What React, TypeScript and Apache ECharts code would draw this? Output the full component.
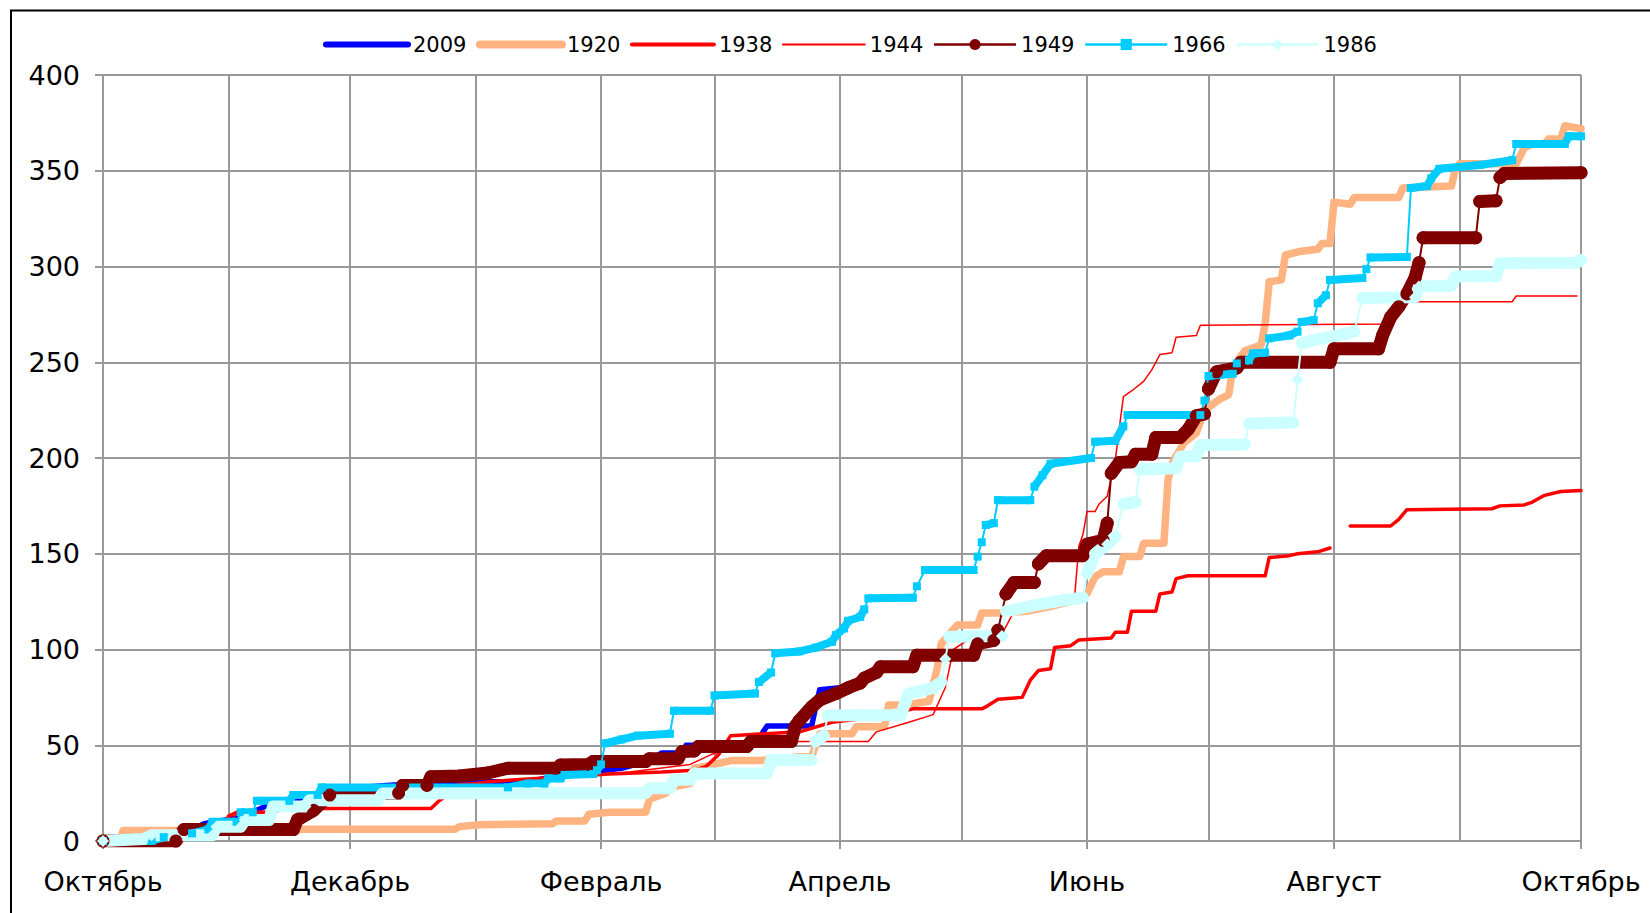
import React, { useEffect, useRef } from "react";
import * as echarts from "echarts";

// ---- axis definitions ----
const monthStartDays = [0, 31, 61, 92, 123, 151, 182, 212, 243, 273, 304, 335, 365];
const labelDays = [0, 61, 123, 182, 243, 304, 365];
const labelNames = ["Октябрь", "Декабрь", "Февраль", "Апрель", "Июнь", "Август", "Октябрь"];
const yMin = 0;
const yMax = 400;
const yStep = 50;
const totalDays = 365;

// ---- series (day since 1 Oct, cumulative value) ----
const s2009 = [[0,0],[10,1],[20,4],[25,9],[33,12],[38,16],[41,19],[50,23],[58,27],[70,29],[85,31],[105,31],[110,33],[120,36],[128,38],[135,42],[138,46],[143,46],[144,50],[162,50],[163,57],[164,60],[175,60],[176,70],[177,79],[182,80]];

const s1920 = [[0,0],[4,0],[5,5.5],[48,5.5],[49,6.2],[87,6.2],[88,7.5],[93,8.5],[111,9],[112,10.5],[119,10.5],[120,14],[125,15],[134,15],[135,22],[139,25],[140,28],[145,30],[146,38],[149,39],[155,42],[163,42],[172,44],[175,44],[177,56],[185,56],[186,59.7],[193,59.7],[194,71],[198,71],[204,73],[206,90],[207,103],[209,108],[211,112.8],[216,112.8],[217,119],[222,119],[228,120],[235,123],[241,126],[243,129],[245,138],[247,140.6],[251,140.6],[252,148.5],[256,148.5],[257,155.5],[262,155.5],[263,188.5],[264,197],[265,201],[267,208],[270,213],[272,225],[276,231],[278,233],[279,247],[282,256],[286,259],[287,270],[288,292],[291,293],[292,306],[296,308],[300,309],[301,312],[303,312],[304,333.6],[308,332.5],[309,336],[320,336],[321,341],[333,342],[334,351],[335,353.6],[349,353.6],[351,362],[353,364],[356,364],[357,366.6],[360,366.6],[361,373.5],[365,372]];

const s1938 = [[0,0],[18,1],[25,3],[29,5],[31,13],[33,15],[40,15],[44,17],[81,17],[83,21],[88,28],[95,31],[110,33],[125,35],[138,36],[146,37],[149,39],[152,45],[155,55],[172,57],[180,62],[192,65],[200,69],[217,69],[218,70],[221,74],[227,75],[229,84],[231,89],[234,90],[235,101],[239,102],[241,105],[249,106],[250,109],[253,109],[254,120],[260,120],[261,129],[264,130],[265,137],[268,138.5],[287,138.5],[288,148],[293,149],[295,150],[300,151],[303,153],[305,null],[308,164.5],[318,164.5],[320,168],[322,173],[343,173.5],[345,175],[351,175.5],[353,177],[356,180.5],[360,182.5],[365,183]];

const s1944 = [[0,0],[15,2],[25,4],[31,10],[33,14],[43,15],[47,20],[60,22],[80,25],[88,30],[110,33],[130,36],[145,40],[150,45],[158,50],[170,52],[189,52],[191,57],[199,62],[205,66],[208,80],[210,100],[215,107],[222,108],[225,120],[232,123],[238,126],[240,129],[241,154],[242,160],[243,172],[245,172],[246,176],[248,180],[249,190],[250,199],[251,216],[252,232],[254,235],[257,240],[259,246],[261,254],[264,255],[265,263],[270,264],[271,269.3],[318,270],[322,281.6],[348,281.6],[349,284.6],[364,284.6]];

const s1949 = [[0,0],[18,0],[20,6],[47,6],[48,11],[52,16],[56,24],[73,25],[74,29],[80,29],[81,33.5],[88,34],[95,35.5],[100,38],[112,38],[113,39.7],[120,40],[121,41.5],[134,41.5],[135,43],[142,43],[143,46.7],[146,47],[147,49.3],[159,49.3],[160,52],[170,52],[171,60],[172,63],[175,70],[177,73.6],[181,77],[184,80],[187,82.5],[188,85],[191,88],[192,91],[200,91],[201,97],[215,97],[216,103],[220,104.8],[221,110],[223,129],[225,135],[230,135],[231,144.7],[233,149],[242,149],[243,155],[247,157],[248,166],[249,192],[251,197.7],[254,198],[255,202],[259,202],[260,210.7],[266,210.7],[268,215],[270,222],[272,223],[273,236],[275,245],[280,247],[281,250],[303,250],[304,257],[315,257],[316,264],[318,273.6],[320,279],[322,285.7],[324,294],[325,302],[326,315],[339,315],[340,334],[344,334.3],[345,346.5],[346,348.5],[365,349]];

const s1966 = [[0,0],[12,0],[15,2],[22,4],[26,6],[27,10],[33,10],[34,15],[37,15],[38,21],[46,21],[47,24],[53,24],[54,28],[100,28],[105,30],[109,30],[110,32.7],[113,32.7],[114,34.5],[121,35],[122,37],[123,40],[124,51],[128,53],[132,55],[140,56],[141,68],[150,68],[151,76],[161,77],[162,83],[165,88],[166,98],[172,99],[176,101],[180,104],[181,107.5],[183,111],[184,115],[187,117],[188,121],[189,126.7],[200,127],[201,133],[203,141.5],[215,141.5],[216,148.5],[217,156],[218,165],[220,166],[221,178],[229,178],[230,185],[232,191],[234,197],[244,200],[245,208.5],[250,209],[252,216.6],[253,222.4],[271,222.4],[272,230],[273,242.8],[279,244],[280,249.4],[283,251],[284,254.6],[287,255],[288,262.5],[293,264],[295,266],[296,271],[299,272],[300,280.8],[302,285],[303,293],[311,294],[312,298.6],[313,304.7],[322,305],[323,341],[327,342],[328,346],[330,351],[340,353],[348,355.5],[349,364],[361,364],[362,368],[365,368]];

const s1986 = [[0,0],[10,1],[12,3],[27,3],[28,7.4],[34,7.4],[35,11],[41,11],[42,18],[50,18],[51,21.3],[68,21.3],[69,24.8],[134,25],[135,27.5],[140,27.5],[141,32],[145,32],[146,35.3],[164,35.3],[165,42.3],[175,42.3],[176,52],[178,55],[179,65.5],[197,65.8],[199,77],[205,80],[207,83],[208,95],[209,106.6],[222,107],[223,120],[230,123],[238,126],[242,127],[243,139.8],[245,150],[248,155],[250,159],[252,176],[255,177],[256,194],[265,194.6],[266,200.7],[270,201],[271,206.8],[282,207],[283,218],[294,218.5],[295,241],[296,260],[300,262],[305,264],[309,266],[311,283.5],[324,284],[325,289.6],[333,290],[334,294.8],[344,295],[345,301.7],[364,302],[365,303.5]];

const FONT = "'DejaVu Sans', Verdana, sans-serif";
const GRID_COLOR = "#999999";

function toData(arr: (number | null)[][]) {
  return arr.map((p) => [p[0], p[1] === null ? "-" : p[1]]);
}

// band data: same points, line broken where the daily rise is steep
function toBand(arr: (number | null)[][], maxRate: number) {
  const out: any[] = [];
  for (let i = 0; i < arr.length; i++) {
    const p = arr[i];
    if (i > 0) {
      const q = arr[i - 1];
      if (p[1] !== null && q[1] !== null) {
        const dd = Math.max(1, (p[0] as number) - (q[0] as number));
        const rate = ((p[1] as number) - (q[1] as number)) / dd;
        if (rate > maxRate) out.push([q[0], "-"]);
      }
    }
    out.push([p[0], p[1] === null ? "-" : p[1]]);
  }
  return out;
}

function plainLine(name: string, data: (number | null)[][], color: string, width: number) {
  return {
    type: "line",
    name,
    data: toData(data),
    symbol: "none",
    showSymbol: false,
    connectNulls: false,
    lineStyle: { color, width, cap: "round", join: "round" },
    itemStyle: { color },
    emphasis: { disabled: true },
  };
}

function markerLines(name: string, data: (number | null)[][], color: string, symbol: string, band: number, maxRate: number) {
  return [
    {
      type: "line",
      name,
      data: toData(data),
      symbol,
      showSymbol: false,
      connectNulls: false,
      lineStyle: { color, width: 2 },
      itemStyle: { color },
      emphasis: { disabled: true },
    },
    {
      type: "line",
      name,
      data: toBand(data, maxRate),
      symbol,
      symbolSize: band,
      showSymbol: true,
      showAllSymbol: true,
      connectNulls: false,
      lineStyle: { color, width: band, cap: symbol === "rect" ? "butt" : "round", join: "round" },
      itemStyle: { color },
      emphasis: { disabled: true },
    },
  ];
}

export default function App() {
  const ref = useRef<HTMLDivElement>(null);

  useEffect(() => {
    if (!ref.current) return;
    const chart = echarts.init(ref.current, undefined, { renderer: "svg" });
    const days: string[] = [];
    for (let d = 0; d <= totalDays; d++) days.push(String(d));
    const labelOf = (idx: number) => {
      const k = labelDays.indexOf(idx);
      return k >= 0 ? labelNames[k] : "";
    };

    const option: any = {
      animation: false,
      backgroundColor: "#ffffff",
      textStyle: { fontFamily: FONT },
      graphic: [
        {
          type: "rect",
          silent: true,
          z: 100,
          shape: { x: 11, y: 10.5, width: 1700, height: 1000 },
          style: { fill: "none", stroke: "#000000", lineWidth: 2 },
        },
      ],
      legend: {
        left: 323,
        top: 34,
        padding: 0,
        itemWidth: 82,
        itemHeight: 14,
        itemGap: 9.5,
        selectedMode: false,
        textStyle: { fontSize: 21, fontFamily: FONT, color: "#000000" },
        data: [
          { name: "2009", lineStyle: { width: 6 }, itemStyle: { opacity: 0 } },
          { name: "1920", lineStyle: { width: 8 }, itemStyle: { opacity: 0 } },
          { name: "1938", lineStyle: { width: 4 }, itemStyle: { opacity: 0 } },
          { name: "1944", lineStyle: { width: 2 }, itemStyle: { opacity: 0 } },
          { name: "1949", lineStyle: { width: 2.5 } },
          { name: "1966", lineStyle: { width: 2.5 } },
          { name: "1986", lineStyle: { width: 2.5 } },
        ],
      },
      grid: { left: 103, right: 69, top: 75, bottom: 72, containLabel: false, outerBoundsMode: "none" },
      xAxis: {
        type: "category",
        boundaryGap: false,
        data: days,
        axisLine: { show: true, lineStyle: { color: GRID_COLOR, width: 2 } },
        axisTick: {
          show: true,
          length: 8,
          interval: (idx: number) => labelDays.indexOf(idx) >= 0,
          lineStyle: { color: GRID_COLOR, width: 2 },
        },
        axisLabel: {
          interval: (idx: number) => labelDays.indexOf(idx) >= 0,
          formatter: (_v: string, idx: number) => labelOf(idx),
          margin: 27,
          fontSize: 27,
          fontFamily: FONT,
          color: "#000000",
        },
        splitLine: {
          show: true,
          interval: (idx: number) => monthStartDays.indexOf(idx) >= 0,
          lineStyle: { color: GRID_COLOR, width: 2 },
        },
      },
      yAxis: {
        type: "value",
        min: yMin,
        max: yMax,
        interval: yStep,
        axisLine: { show: true, lineStyle: { color: GRID_COLOR, width: 2 } },
        axisTick: { show: true, length: 8, lineStyle: { color: GRID_COLOR, width: 2 } },
        axisLabel: { fontSize: 27, margin: 23, color: "#000000", fontFamily: FONT },
        splitLine: { show: true, lineStyle: { color: GRID_COLOR, width: 2 } },
      },
      series: [
        plainLine("2009", s2009, "#0000FF", 5.5),
        plainLine("1920", s1920, "#FFB380", 7.5),
        plainLine("1938", s1938, "#FF0000", 3.5),
        plainLine("1944", s1944, "#FF0000", 1.5),
        ...markerLines("1949", s1949, "#800000", "circle", 13, 9),
        ...markerLines("1966", s1966, "#00CCFF", "rect", 8, 4),
        ...markerLines("1986", s1986, "#CCFFFF", "diamond", 12, 8),
      ],
    };
    chart.setOption(option);
    return () => chart.dispose();
  }, []);

  return (
    <div
      ref={ref}
      style={{ position: "fixed", left: 0, top: 0, width: 1650, height: 913, background: "#fff" }}
    />
  );
}
